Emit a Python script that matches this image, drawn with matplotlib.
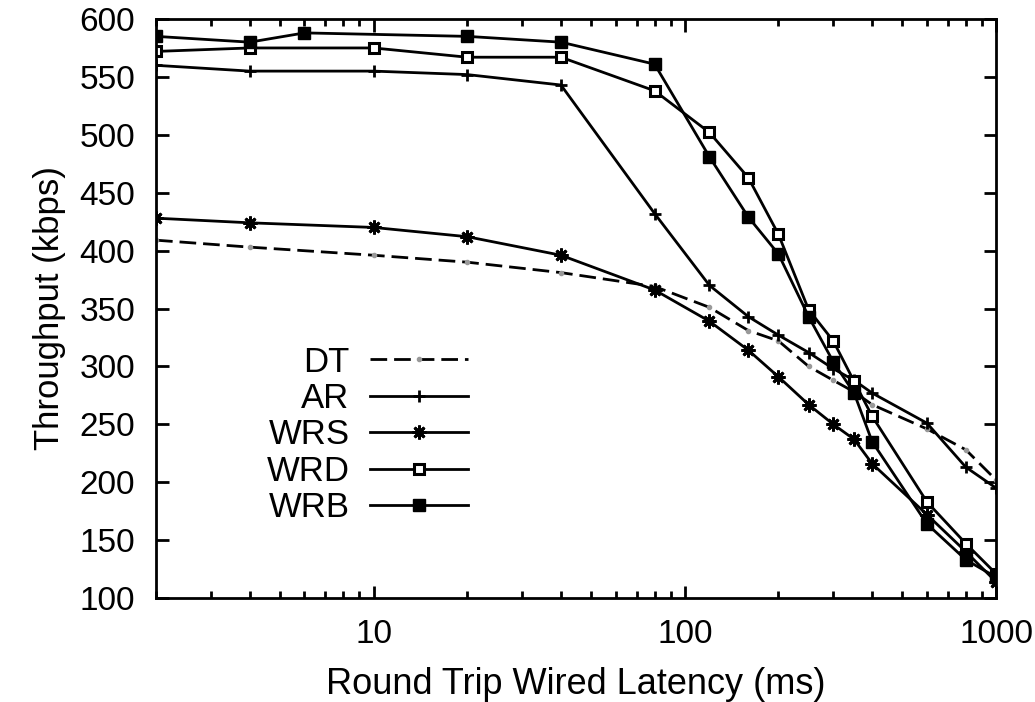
import matplotlib
matplotlib.use("Agg")
import matplotlib.pyplot as plt
from matplotlib.ticker import FixedLocator, NullFormatter, LogLocator

plt.rcParams['font.family'] = ['Liberation Sans', 'DejaVu Sans']

# latencia (ms)
lat = [2, 4, 10, 20, 40, 80, 120, 160, 200, 250, 300, 350, 400, 600, 800, 1000]
lat_wrb = [2, 4, 6, 20, 40, 80, 120, 160, 200, 250, 300, 350, 400, 600, 800, 1000]

# throughput (kbps)
dt = [409, 403, 396, 390, 381, 369, 351, 331, 322, 300, 288, 278, 267, 246, 228, 202]
ar = [560, 555, 555, 552, 543, 432, 370, 343, 327, 312, 298, 288, 277, 251, 213, 195]
wrs = [428, 424, 420, 412, 396, 366, 339, 314, 291, 267, 250, 237, 216, 172, 140, 114]
wrd = [572, 575, 575, 567, 567, 538, 502, 463, 414, 349, 322, 287, 257, 183, 147, 121]
wrb = [585, 580, 588, 585, 580, 561, 481, 429, 397, 343, 304, 277, 235, 164, 133, 118]

xticks = [10, 100, 1000]
yticks = [100, 150, 200, 250, 300, 350, 400, 450, 500, 550, 600]

fig = plt.figure(figsize=(10.35, 7.02), dpi=100)
ax = fig.add_axes([156 / 1035, 1 - 598 / 702, 840 / 1035, 579 / 702])

lw = 2.0
ax.plot(lat, dt, color='black', lw=lw, dashes=(6, 2.5), marker='o', ms=3,
        mfc='0.6', mec='0.6', label='DT')
ax.plot(lat, ar, color='black', lw=lw, marker='+', ms=9, mew=2, label='AR')
ax.plot(lat, wrs, color='black', lw=lw, marker=(8, 2, 0), ms=10, mew=2, label='WRS')
ax.plot(lat, wrd, color='black', lw=lw, marker='s', ms=7, mfc='white', mew=2.2, label='WRD')
ax.plot(lat_wrb, wrb, color='black', lw=lw, marker='s', ms=8, mfc='black', label='WRB')

ax.set_xscale('log')
ax.set_xlim(2, 1000)
ax.set_ylim(100, 600)
ax.xaxis.set_major_locator(FixedLocator(xticks))
ax.set_xticklabels([str(t) for t in xticks])
ax.xaxis.set_minor_locator(LogLocator(base=10, subs=range(2, 10)))
ax.xaxis.set_minor_formatter(NullFormatter())
ax.set_yticks(yticks)

for s in ax.spines.values():
    s.set_linewidth(2)
ax.tick_params(which='both', direction='in', top=True, right=True, width=2)
ax.tick_params(which='major', length=9, pad=15, labelsize=24)
ax.tick_params(which='minor', length=5)

ax.set_xlabel('Round Trip Wired Latency (ms)', fontsize=26, labelpad=12)
ax.set_ylabel('Throughput (kbps)', fontsize=25, labelpad=10)

leg = ax.legend(loc='center', bbox_to_anchor=(367 / 1035, 1 - 435 / 702),
                bbox_transform=fig.transFigure, frameon=False, markerfirst=False,
                fontsize=25, handlelength=2.8, handletextpad=0.6, labelspacing=0.1)

fig.savefig('out.png', dpi=100)
